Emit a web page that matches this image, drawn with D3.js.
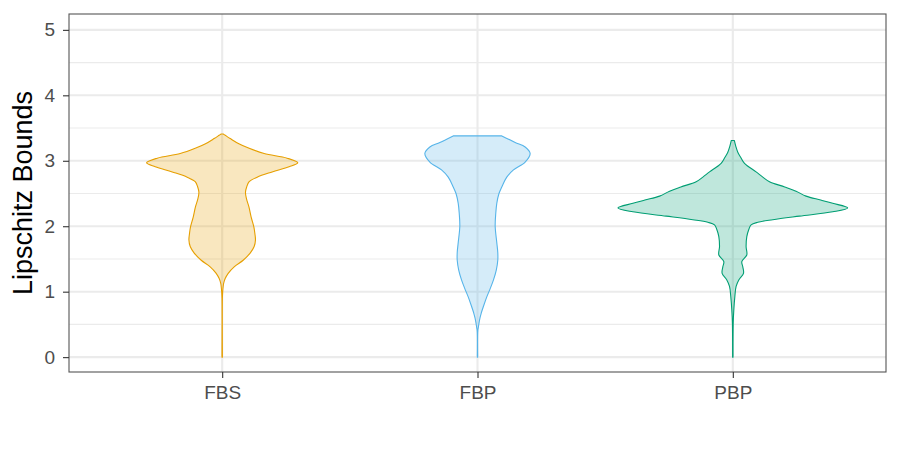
<!DOCTYPE html>
<html>
<head>
<meta charset="utf-8">
<script src="https://cdn.jsdelivr.net/npm/d3@7"></script>
<style>
  html, body { margin: 0; padding: 0; background: #fff; }
  svg { display: block; font-family: "Liberation Sans", Arial, Helvetica, sans-serif; }
</style>
</head>
<body>
<svg id="chart" width="900" height="450"></svg>
<script>
// ---- data ----
const categories = ["FBS", "FBP", "PBP"];
const colors = ["#E69F00", "#56B4E9", "#009E73"];
const yTicks = [0, 1, 2, 3, 4, 5];
const yTitle = "Lipschitz Bounds";

// estimated kernel density profiles: [value, density]
const densityFBS = [[0,0.002],[0.9,0.002],[1.0,0.005],[1.08,0.01],[1.13,0.015],[1.2,0.03],[1.28,0.06],[1.38,0.12],[1.48,0.21],[1.59,0.28],[1.69,0.32],[1.79,0.333],[1.89,0.327],[1.99,0.317],[2.14,0.29],[2.30,0.267],[2.42,0.243],[2.52,0.233],[2.60,0.245],[2.68,0.27],[2.75,0.35],[2.83,0.50],[2.91,0.67],[2.97,0.757],[3.04,0.65],[3.11,0.42],[3.19,0.27],[3.26,0.167],[3.34,0.08],[3.39,0.03],[3.41,0.01]];
const densityFBP = [[0,0.002],[0.4,0.003],[0.45,0.008],[0.52,0.015],[0.6,0.025],[0.67,0.037],[0.8,0.065],[0.92,0.093],[1.05,0.128],[1.18,0.16],[1.33,0.188],[1.48,0.203],[1.6,0.203],[1.75,0.193],[2.0,0.177],[2.2,0.183],[2.35,0.193],[2.5,0.215],[2.6,0.243],[2.75,0.293],[2.86,0.36],[2.98,0.477],[3.11,0.527],[3.21,0.477],[3.28,0.377],[3.38,0.243]];
const densityPBP = [[0,0.002],[0.52,0.004],[0.72,0.01],[0.92,0.02],[1.08,0.033],[1.18,0.06],[1.28,0.107],[1.38,0.10],[1.46,0.09],[1.56,0.14],[1.69,0.133],[1.84,0.14],[1.95,0.16],[2.02,0.183],[2.06,0.25],[2.10,0.40],[2.155,0.667],[2.22,1.00],[2.28,1.15],[2.35,1.00],[2.40,0.88],[2.46,0.733],[2.535,0.633],[2.60,0.52],[2.68,0.367],[2.75,0.30],[2.83,0.233],[2.96,0.117],[3.05,0.08],[3.13,0.05],[3.22,0.03],[3.31,0.015]];
const densities = [densityFBS, densityFBP, densityPBP];

// ---- layout ----
const svg = d3.select("#chart");
const panel = {left: 69, right: 886, top: 14, bottom: 372};

// ggplot-style discrete expansion: 0.6 units each side
const xPos = d3.scaleLinear().domain([0.4, 3.6]).range([panel.left, panel.right]);
const bandUnit = xPos(2) - xPos(1);
const y = d3.scaleLinear().domain([-0.25, 5.25]).range([panel.bottom + 1.5, panel.top - 0.5]);

const maxDens = d3.max(densities, d => d3.max(d, p => p[1]));
const w = d3.scaleLinear().domain([0, maxDens]).range([0, 0.45 * bandUnit]);

// grid
const g = svg.append("g");
const minor = d3.range(0.5, 5.0, 1);
g.selectAll(".minor").data(minor).join("line")
  .attr("x1", panel.left).attr("x2", panel.right)
  .attr("y1", d => y(d)).attr("y2", d => y(d))
  .attr("stroke", "#EBEBEB").attr("stroke-width", 1.1);
g.selectAll(".major").data(yTicks).join("line")
  .attr("x1", panel.left).attr("x2", panel.right)
  .attr("y1", d => y(d)).attr("y2", d => y(d))
  .attr("stroke", "#EBEBEB").attr("stroke-width", 2.1);
g.selectAll(".vmajor").data(categories).join("line")
  .attr("x1", (d, i) => xPos(i + 1)).attr("x2", (d, i) => xPos(i + 1))
  .attr("y1", panel.top).attr("y2", panel.bottom)
  .attr("stroke", "#EBEBEB").attr("stroke-width", 2.1);

// violins
categories.forEach((c, i) => {
  const cx = xPos(i + 1);
  const a = d3.area()
    .y(d => y(d[0]))
    .x0(d => cx - w(d[1]))
    .x1(d => cx + w(d[1]))
    .curve(d3.curveCatmullRom.alpha(0.5));
  svg.append("path")
    .datum(densities[i])
    .attr("d", a)
    .attr("fill", colors[i]).attr("fill-opacity", 0.25)
    .attr("stroke", colors[i]).attr("stroke-width", 1.1)
    .attr("stroke-linejoin", "round");
});

// panel border
svg.append("rect")
  .attr("x", panel.left).attr("y", panel.top)
  .attr("width", panel.right - panel.left).attr("height", panel.bottom - panel.top)
  .attr("fill", "none").attr("stroke", "#555").attr("stroke-width", 1.1);

// y axis
const yAxis = d3.axisLeft(y).tickValues(yTicks).tickSize(6).tickPadding(8).tickFormat(d3.format("d"));
const ya = svg.append("g").attr("transform", `translate(${panel.left},0)`).call(yAxis);
ya.select(".domain").remove();
ya.selectAll(".tick line").attr("stroke", "#333").attr("stroke-width", 1.1);
ya.selectAll(".tick text").attr("fill", "#4D4D4D").style("font-size", "19px")
  .style("font-family", "Liberation Sans, Arial, sans-serif");

// x axis
const xAxis = d3.axisBottom(xPos).tickValues([1, 2, 3]).tickSize(6).tickPadding(8)
  .tickFormat(d => categories[d - 1]);
const xa = svg.append("g").attr("transform", `translate(0,${panel.bottom})`).call(xAxis);
xa.select(".domain").remove();
xa.selectAll(".tick line").attr("stroke", "#333").attr("stroke-width", 1.1);
xa.selectAll(".tick text").attr("fill", "#4D4D4D").style("font-size", "19px")
  .style("font-family", "Liberation Sans, Arial, sans-serif");

// y title
svg.append("text")
  .attr("transform", `translate(32,${(panel.top + panel.bottom) / 2}) rotate(-90)`)
  .attr("text-anchor", "middle")
  .attr("fill", "#000")
  .style("font-size", "27px")
  .text(yTitle);
</script>
</body>
</html>
